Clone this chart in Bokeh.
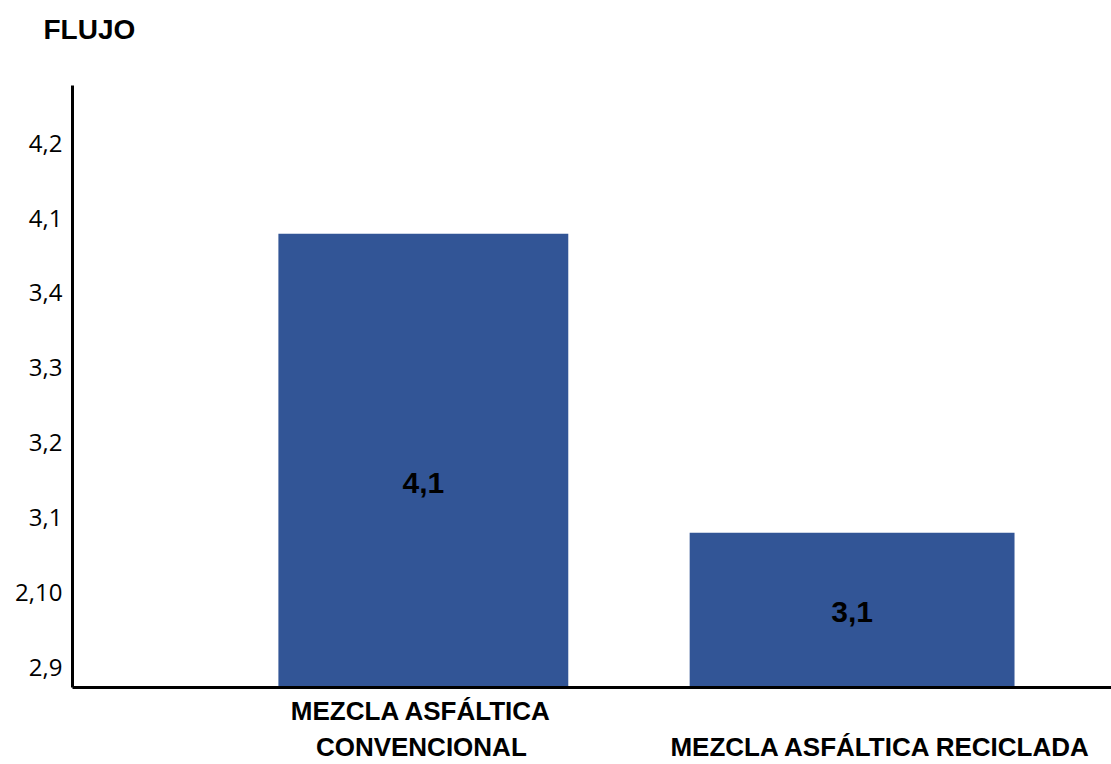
from bokeh.plotting import figure
from bokeh.models import FixedTicker, Range1d, ColumnDataSource, LinearAxis
from bokeh.core.properties import value
from bokeh.embed import file_html
from bokeh.resources import INLINE

# ---- data ----
title_text = "FLUJO"
categories = ["MEZCLA ASFÁLTICA\nCONVENCIONAL", "MEZCLA ASFÁLTICA RECICLADA"]
bar_heights = [5.79, 1.80]          # bar tops, in y-axis tick-slot units
value_labels = ["4,1", "3,1"]
y_tick_labels = ["2,9", "2,10", "3,1", "3,2", "3,3", "3,4", "4,1", "4,2"]

# ---- layout / style constants ----
bar_x = [1.013, 2.251]
bar_w = [0.837, 0.938]
value_label_y = [2.467, 0.74]
cat_x_offset_px = [-2, 29]
X_END = 3.0
FRAME_W = 1111 - 72
y_start, y_end = -0.267, 7.77
BAR_COLOR = "#325596"

p = figure(width=1111, height=764, output_backend="svg", toolbar_location=None,
           x_range=Range1d(0, X_END), y_range=Range1d(y_start, y_end),
           title=title_text,
           min_border_left=72, min_border_right=0, min_border_top=85, min_border_bottom=76)
p.outline_line_color = None
p.xgrid.visible = False
p.ygrid.visible = False
p.background_fill_color = "white"
p.border_fill_color = "white"

p.title.align = "left"
p.title.vertical_align = "bottom"
p.title.offset = -29
p.title.standoff = 0
p.title.text_font = "Liberation Sans"
p.title.text_font_style = "bold"
p.title.text_font_size = "28px"
p.title.text_color = "black"

src = ColumnDataSource(dict(x=bar_x, w=bar_w, top=bar_heights,
                            ly=value_label_y, lab=value_labels))
p.vbar(x="x", width="w", top="top", bottom=y_start, source=src,
       fill_color=BAR_COLOR, line_color=None)
p.text(x="x", y="ly", text="lab", source=src, text_align="center",
       text_baseline="middle", text_font=value("Liberation Sans"),
       text_font_style="bold", text_font_size="30px", text_color="black")

# y axis
ya = p.left[0]
ya.ticker = FixedTicker(ticks=list(range(len(y_tick_labels))))
ya.major_label_overrides = {i: t for i, t in enumerate(y_tick_labels)}
ya.major_tick_in = 0
ya.major_tick_out = 0
ya.minor_tick_in = 0
ya.minor_tick_out = 0
ya.axis_line_width = 3
ya.axis_line_color = "black"
ya.major_label_standoff = 10
ya.major_label_text_font = "Open Sans"
ya.major_label_text_font_size = "24px"
ya.major_label_text_color = "black"

# x axes: two stacked rows of category text (first row carries the axis line)
rows = [{}, {}]
for i, cat in enumerate(categories):
    lines = cat.split("\n")
    pos = round(bar_x[i] + cat_x_offset_px[i] * X_END / FRAME_W, 4)
    for j, line in enumerate(lines):
        row = j + (2 - len(lines))
        rows[row][pos] = line


def style_x(ax, row, standoff, line):
    ax.ticker = FixedTicker(ticks=sorted(row.keys()))
    ax.major_label_overrides = dict(row)
    ax.major_tick_in = 0
    ax.major_tick_out = 0
    ax.minor_tick_in = 0
    ax.minor_tick_out = 0
    ax.major_label_standoff = standoff
    ax.major_label_text_font = "Liberation Sans"
    ax.major_label_text_font_style = "bold"
    ax.major_label_text_font_size = "26px"
    ax.major_label_text_color = "black"
    if line:
        ax.axis_line_width = 3
        ax.axis_line_color = "black"
    else:
        ax.axis_line_color = None


xb = p.below[0]
style_x(xb, rows[0], 8, True)
ax2 = LinearAxis()
style_x(ax2, rows[1], 3, False)
p.add_layout(ax2, "below")

# blank spacer between the title and the plot frame
spacer = LinearAxis(ticker=FixedTicker(ticks=[]), axis_line_color=None,
                    major_tick_in=0, major_tick_out=0, minor_tick_in=0, minor_tick_out=0,
                    major_label_standoff=0,
                    axis_label=" ", axis_label_standoff=16,
                    axis_label_text_font_size="20px")
p.add_layout(spacer, "above")

open("out.html", "w").write(file_html(p, INLINE))
